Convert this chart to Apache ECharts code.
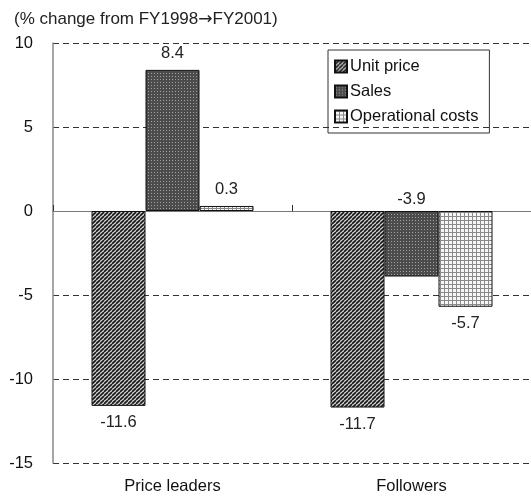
<!DOCTYPE html>
<html>
<head>
<meta charset="utf-8">
<script src="https://cdn.jsdelivr.net/npm/echarts@6/dist/echarts.min.js"></script>
<style>
  html, body { margin: 0; padding: 0; background: #fff; }
  #chart { width: 531px; height: 496px; }
</style>
</head>
<body>
<div id="chart"></div>
<script>
// Change in indicators, FY1998 -> FY2001 (%)
const categories = ['Price leaders', 'Followers'];
const seriesNames = ['Unit price', 'Sales', 'Operational costs'];
const unitPrice = [-11.6, -11.7];
const sales = [8.4, -3.9];
const operationalCosts = [0.3, -5.7];
const yTicks = { min: -15, max: 10, interval: 5 };
const titleParts = ['(% change from FY1998', '\u2192', 'FY2001)'];

const FONT = '"Liberation Sans", Arial, sans-serif';
const FS = 16.5;

// Hatching fills drawn on small tiles
function tile(size, draw) {
  const c = document.createElement('canvas');
  c.width = size; c.height = size;
  const g = c.getContext('2d');
  draw(g, size);
  return { image: c, repeat: 'repeat' };
}
const diagonalFill = tile(4, (g, s) => {
  g.fillStyle = '#d4d4d4';
  g.fillRect(0, 0, s, s);
  g.strokeStyle = '#151515';
  g.lineWidth = 1.6;
  for (let k = -1; k <= 1; k++) {
    g.beginPath();
    g.moveTo(k * s, s);
    g.lineTo(k * s + s, 0);
    g.stroke();
  }
});
const dottedFill = tile(3, (g, s) => {
  g.fillStyle = '#4c4c4c';
  g.fillRect(0, 0, s, s);
  g.fillStyle = '#a0a0a0';
  g.fillRect(1, 1, 1, 1);
});
const gridFill = tile(4, (g, s) => {
  g.fillStyle = '#f6f6f6';
  g.fillRect(0, 0, s, s);
  g.fillStyle = '#8a8a8a';
  g.fillRect(0, 0, s, 1);
  g.fillRect(0, 0, 1, s);
});

function labelled(values, pos) {
  return values.map((v, i) => ({
    value: v,
    label: { position: pos[i], distance: pos[i] === 'top' && v < 0 ? 3 : 8 }
  }));
}

const fills = [diagonalFill, dottedFill, gridFill];
const data = [
  labelled(unitPrice, ['bottom', 'bottom']),
  labelled(sales, ['top', 'top']),
  labelled(operationalCosts, ['top', 'bottom'])
];

const chart = echarts.init(document.getElementById('chart'), null, { renderer: 'canvas' });
chart.setOption({
  animation: false,
  textStyle: { fontFamily: FONT },
  title: {
    text: '{a|' + titleParts[0] + '}{b|' + titleParts[1] + '}{a|' + titleParts[2] + '}',
    left: 9, top: 6,
    textStyle: {
      fontFamily: FONT, fontSize: 17, fontWeight: 'normal', color: '#222',
      rich: {
        a: { fontFamily: FONT, fontSize: 17, color: '#222' },
        b: { fontFamily: '"DejaVu Sans"', fontSize: 17, color: '#222' }
      }
    }
  },
  legend: {
    orient: 'vertical',
    left: 328, top: 50,
    padding: [8, 11, 8, 6],
    itemGap: 8,
    itemWidth: 12, itemHeight: 12,
    icon: 'rect',
    borderColor: '#333', borderWidth: 1,
    data: seriesNames,
    textStyle: { fontFamily: FONT, fontSize: FS, color: '#111', padding: [0, 0, 0, -2] }
  },
  grid: { left: 53, top: 43, right: -2, bottom: 33, containLabel: false },
  xAxis: [
    {
      type: 'category', data: categories,
      axisLine: { onZero: true, lineStyle: { color: '#777', width: 1.2 } },
      axisTick: { show: true, inside: true, length: 6, lineStyle: { color: '#333' } },
      axisLabel: { show: false }
    },
    {
      type: 'category', data: categories, position: 'bottom',
      axisLine: { show: false, onZero: false }, axisTick: { show: false },
      axisLabel: { margin: 15, fontFamily: FONT, fontSize: FS, color: '#111' }
    }
  ],
  yAxis: {
    type: 'value', min: yTicks.min, max: yTicks.max, interval: yTicks.interval,
    axisLine: { show: true, lineStyle: { color: '#888', width: 1.5 } },
    axisTick: { show: false },
    axisLabel: { margin: 20, fontFamily: FONT, fontSize: FS, color: '#111' },
    splitLine: { lineStyle: { color: '#333', type: [6, 4], width: 1 } }
  },
  series: seriesNames.map((name, i) => ({
    name, type: 'bar', xAxisIndex: 0, data: data[i],
    barWidth: 54, barGap: '0%',
    itemStyle: { color: fills[i], borderColor: '#111', borderWidth: 1 },
    label: { show: true, fontFamily: FONT, fontSize: FS, color: '#222' }
  }))
});
</script>
</body>
</html>
